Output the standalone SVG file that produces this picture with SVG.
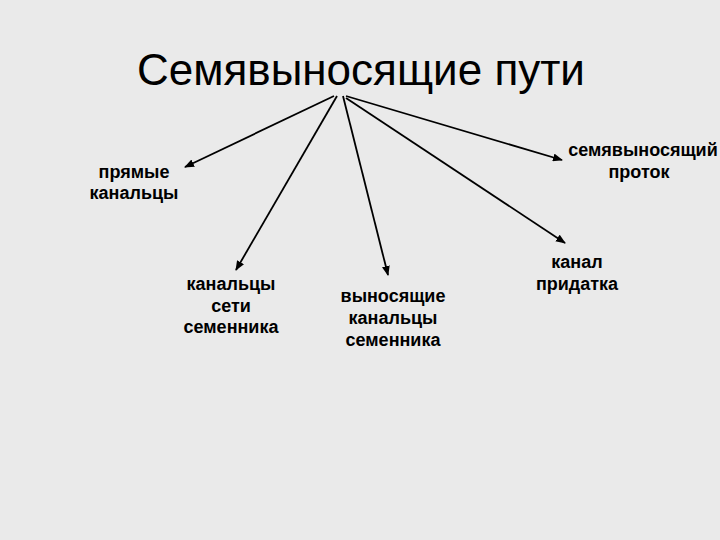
<svg xmlns="http://www.w3.org/2000/svg" width="720" height="540" viewBox="0 0 720 540">
<defs>
<marker id="ah" markerWidth="10" markerHeight="8" refX="9" refY="4" orient="auto" markerUnits="userSpaceOnUse">
<path d="M0,0 L10,4 L0,8 Z" fill="#000"/>
</marker>
<style>
.t{font-family:"Liberation Sans",Arial,sans-serif;font-size:44px;fill:#000}
.l{font-family:"Liberation Sans",Arial,sans-serif;font-size:18px;font-weight:bold;fill:#000;text-anchor:middle}
.c line{stroke:#000;stroke-width:1.8;marker-end:url(#ah)}
</style>
</defs>
<rect width="720" height="540" fill="#eaeaea"/>
<g id="title"><text class="t" x="137" y="85">Семявыносящие пути</text></g>
<g class="c" id="connectors">
<line x1="334" y1="96" x2="185" y2="167"/>
<line x1="337" y1="96" x2="236" y2="270"/>
<line x1="343" y1="96" x2="388" y2="275"/>
<line x1="346" y1="96" x2="562" y2="160"/>
<line x1="346" y1="98" x2="565" y2="243"/>
</g>
<g id="n1"><text class="l" x="134" y="178">прямые</text><text class="l" x="134" y="199">канальцы</text></g>
<g id="n2"><text class="l" x="231" y="290">канальцы</text><text class="l" x="231" y="312">сети</text><text class="l" x="231" y="333">семенника</text></g>
<g id="n3"><text class="l" x="393" y="302">выносящие</text><text class="l" x="393" y="324">канальцы</text><text class="l" x="393" y="346">семенника</text></g>
<g id="n4"><text class="l" x="577" y="268">канал</text><text class="l" x="577" y="290">придатка</text></g>
<g id="n5"><text class="l" x="643" y="156">семявыносящий</text><text class="l" x="639" y="178">проток</text></g>
</svg>
